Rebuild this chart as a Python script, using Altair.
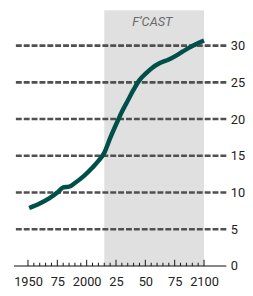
import altair as alt
import pandas as pd

years = [1951, 1960, 1968, 1975, 1980, 1985, 1990, 1998, 2005, 2010, 2015, 2020, 2026, 2030, 2035, 2040, 2045, 2051, 2056, 2062, 2070, 2077, 2082, 2087, 2093, 2100]
values = [7.9, 8.5, 9.2, 10.0, 10.7, 10.8, 11.3, 12.3, 13.4, 14.3, 15.4, 17.4, 19.6, 21.0, 22.5, 24.0, 25.3, 26.3, 27.0, 27.6, 28.1, 28.7, 29.2, 29.7, 30.2, 30.7]
grid_values = [5, 10, 15, 20, 25, 30]
y_ticks = [0, 5, 10, 15, 20, 25, 30]
x_label_years = [1950, 1975, 2000, 2025, 2050, 2075, 2100]
x_label_texts = ["1950", "75", "2000", "25", "50", "75", "2100"]
forecast_start, forecast_end = 2015, 2100
forecast_label = "F\u2019CAST"

xdom = [1938, 2119]
ydom = [0, 34.8]

xs = alt.Scale(domain=xdom, nice=False, zero=False)
ys = alt.Scale(domain=ydom, nice=False, zero=False)

line_df = pd.DataFrame({"year": years, "value": values})
shade_df = pd.DataFrame({"x1": [forecast_start], "x2": [forecast_end], "y1": [0], "y2": [ydom[1]]})
grid_df = pd.DataFrame({"v": grid_values})
minor_years = list(range(1950, 2101, 5))
tick_df = pd.DataFrame({
    "year": minor_years,
    "top": [0.85 if (y - 1950) % 25 == 0 else 0.45 for y in minor_years],
    "base": [0] * len(minor_years),
})
lab_map = "{" + ",".join(f"'{y}':'{t}'" for y, t in zip(x_label_years, x_label_texts)) + "}"

x_axis = alt.Axis(values=x_label_years, labelExpr=f"{lab_map}[datum.value]",
                  title=None, labelPadding=10, labelFlush=False, labelOverlap=False)
y_axis = alt.Axis(orient="right", values=y_ticks, title=None, labelPadding=4,
                  labelBaseline="middle")

shade = alt.Chart(shade_df).mark_rect(color="#e0e0e0").encode(
    x=alt.X("x1:Q", scale=xs, axis=x_axis),
    x2="x2:Q",
    y=alt.Y("y1:Q", scale=ys, axis=y_axis),
    y2="y2:Q",
)

grid = alt.Chart(grid_df).mark_rule(color="#505050", strokeWidth=2.6, strokeDash=[6, 2]).encode(
    y=alt.Y("v:Q", scale=ys, axis=y_axis)
)

base = alt.Chart(pd.DataFrame({"v": [0]})).mark_rule(color="#111", strokeWidth=1.2).encode(
    y=alt.Y("v:Q", scale=ys, axis=y_axis)
)

ticks = alt.Chart(tick_df).mark_rule(color="#111", strokeWidth=1).encode(
    x=alt.X("year:Q", scale=xs, axis=x_axis),
    y=alt.Y("base:Q", scale=ys, axis=y_axis),
    y2="top:Q",
)

line = alt.Chart(line_df).mark_line(color="#00504a", strokeWidth=4.5, interpolate="monotone", strokeCap="butt").encode(
    x=alt.X("year:Q", scale=xs, axis=x_axis),
    y=alt.Y("value:Q", scale=ys, axis=y_axis),
)

label = alt.Chart(pd.DataFrame({"x": [2056], "y": [33.2], "t": [forecast_label]})).mark_text(
    font="Roboto", fontSize=13, fontStyle="italic", color="#6a6a6a", baseline="middle"
).encode(
    x=alt.X("x:Q", scale=xs, axis=x_axis),
    y=alt.Y("y:Q", scale=ys, axis=y_axis),
    text="t:N",
)

chart = alt.layer(shade, grid, base, ticks, line, label).properties(
    width=216, height=260, padding={"left": 4, "top": 0, "right": 0, "bottom": 0},
    background="white"
).configure_view(stroke=None).configure_axis(
    domain=False, ticks=False, grid=False, title=None, labelOverlap=False,
    labelFont="Roboto", labelFontSize=13, labelColor="#222"
)

chart.save("out.html", embed_options={"renderer": "svg", "actions": False})
